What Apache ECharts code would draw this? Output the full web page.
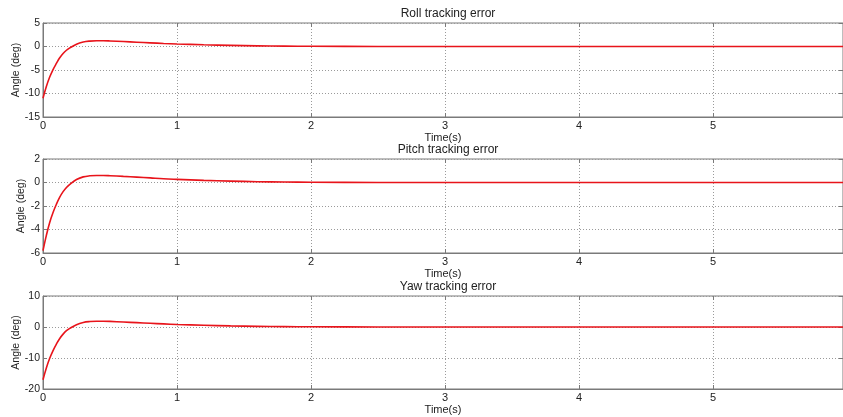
<!DOCTYPE html>
<html><head><meta charset="utf-8">
<script src="https://cdn.jsdelivr.net/npm/echarts@6/dist/echarts.min.js"></script>
<style>html,body{margin:0;padding:0;background:#fff}#c{width:843px;height:417px}</style>
</head><body><div id="c"></div>
<script>
const timeS = [0,0.025,0.05,0.075,0.1,0.125,0.15,0.175,0.2,0.25,0.3,0.35,0.4,0.45,0.5,0.6,0.7,0.8,0.9,1.0,1.2,1.4,1.6,1.8,2.0,2.5,3,4,5,5.97];
const rollErr = [-11,-8.5,-6.5,-4.9,-3.6,-2.4,-1.5,-0.8,-0.3,0.5,0.95,1.15,1.22,1.22,1.18,1.05,0.92,0.78,0.65,0.54,0.36,0.23,0.14,0.08,0.05,0.01,0,0,0,0];
const pitchErr = [-5.8,-4.5,-3.4,-2.55,-1.85,-1.25,-0.78,-0.42,-0.15,0.25,0.48,0.57,0.6,0.6,0.58,0.52,0.46,0.39,0.32,0.27,0.18,0.12,0.07,0.04,0.025,0.005,0,0,0,0];
const yawErr = [-17,-13.2,-10.1,-7.6,-5.5,-3.7,-2.3,-1.2,-0.45,0.75,1.45,1.75,1.85,1.85,1.8,1.6,1.4,1.2,1.0,0.82,0.55,0.35,0.21,0.12,0.07,0.015,0,0,0,0];
const titles = ['Roll tracking error','Pitch tracking error','Yaw tracking error'];
const yRanges = [[-15,5,5],[-6,2,2],[-20,10,10]];
const xMax = 5.97;

const gridTops = [23,159,296];
const gridH = [94,94,93];
const yNameGaps = [21,16,21];
const font = 'Liberation Sans, Arial, sans-serif';
const frame = '#7a7a7a';
const txt = '#222';
const series = [rollErr,pitchErr,yawErr];

const option = {animation:false, title:[], grid:[], xAxis:[], yAxis:[], series:[]};
for (let i=0;i<3;i++){
  option.title.push({text:titles[i], left:443, top:gridTops[i]-20, textAlign:'center',
    textStyle:{fontFamily:font,fontSize:12,fontWeight:'normal',color:txt}});
  option.grid.push({left:43, right:0, top:gridTops[i], height:gridH[i], show:true, borderColor:frame, borderWidth:1,
    containLabel:false, outerBoundsMode:'none'});
  const common = {type:'value', min:0, max:xMax, interval:1, gridIndex:i};
  option.xAxis.push(Object.assign({}, common, {
    position:'bottom', name:'Time(s)', nameLocation:'middle', nameGap:15, nameMoveOverlap:false,
    nameTextStyle:{fontFamily:font,fontSize:11,color:txt},
    axisLine:{show:true,onZero:false,lineStyle:{color:frame}},
    axisTick:{show:true,inside:true,length:4,lineStyle:{color:frame}},
    axisLabel:{fontFamily:font,fontSize:11,color:txt,margin:3,showMaxLabel:false,
      formatter:v=>Number.isInteger(v)?String(v):''},
    splitLine:{show:true,lineStyle:{color:'#9a9a9a',type:[1,2],width:1}}
  }));
  option.xAxis.push(Object.assign({}, common, {
    position:'top', axisLine:{show:false,onZero:false},
    axisTick:{show:true,inside:true,length:4,lineStyle:{color:frame}},
    axisLabel:{show:false}, splitLine:{show:false}
  }));
  const yc = {type:'value', min:yRanges[i][0], max:yRanges[i][1], interval:yRanges[i][2], gridIndex:i};
  option.yAxis.push(Object.assign({}, yc, {
    position:'left', name:'Angle (deg)', nameLocation:'middle', nameGap:yNameGaps[i], nameMoveOverlap:false,
    nameTextStyle:{fontFamily:font,fontSize:10.5,color:txt},
    axisLine:{show:true,onZero:false,lineStyle:{color:frame}},
    axisTick:{show:true,inside:true,length:4,lineStyle:{color:frame}},
    axisLabel:{fontFamily:font,fontSize:10.5,color:txt,margin:3},
    splitLine:{show:true,lineStyle:{color:'#9a9a9a',type:[1,2],width:1}}
  }));
  option.yAxis.push(Object.assign({}, yc, {
    position:'right', axisLine:{show:false,onZero:false},
    axisTick:{show:true,inside:true,length:4,lineStyle:{color:frame}},
    axisLabel:{show:false}, splitLine:{show:false}
  }));
  option.series.push({type:'line', xAxisIndex:2*i, yAxisIndex:2*i, smooth:0.4, symbol:'none',
    lineStyle:{color:'#e8141b',width:1.6}, data:timeS.map((t,k)=>[t,series[i][k]])});
}
echarts.init(document.getElementById('c'),null,{renderer:'canvas'}).setOption(option);
</script></body></html>
